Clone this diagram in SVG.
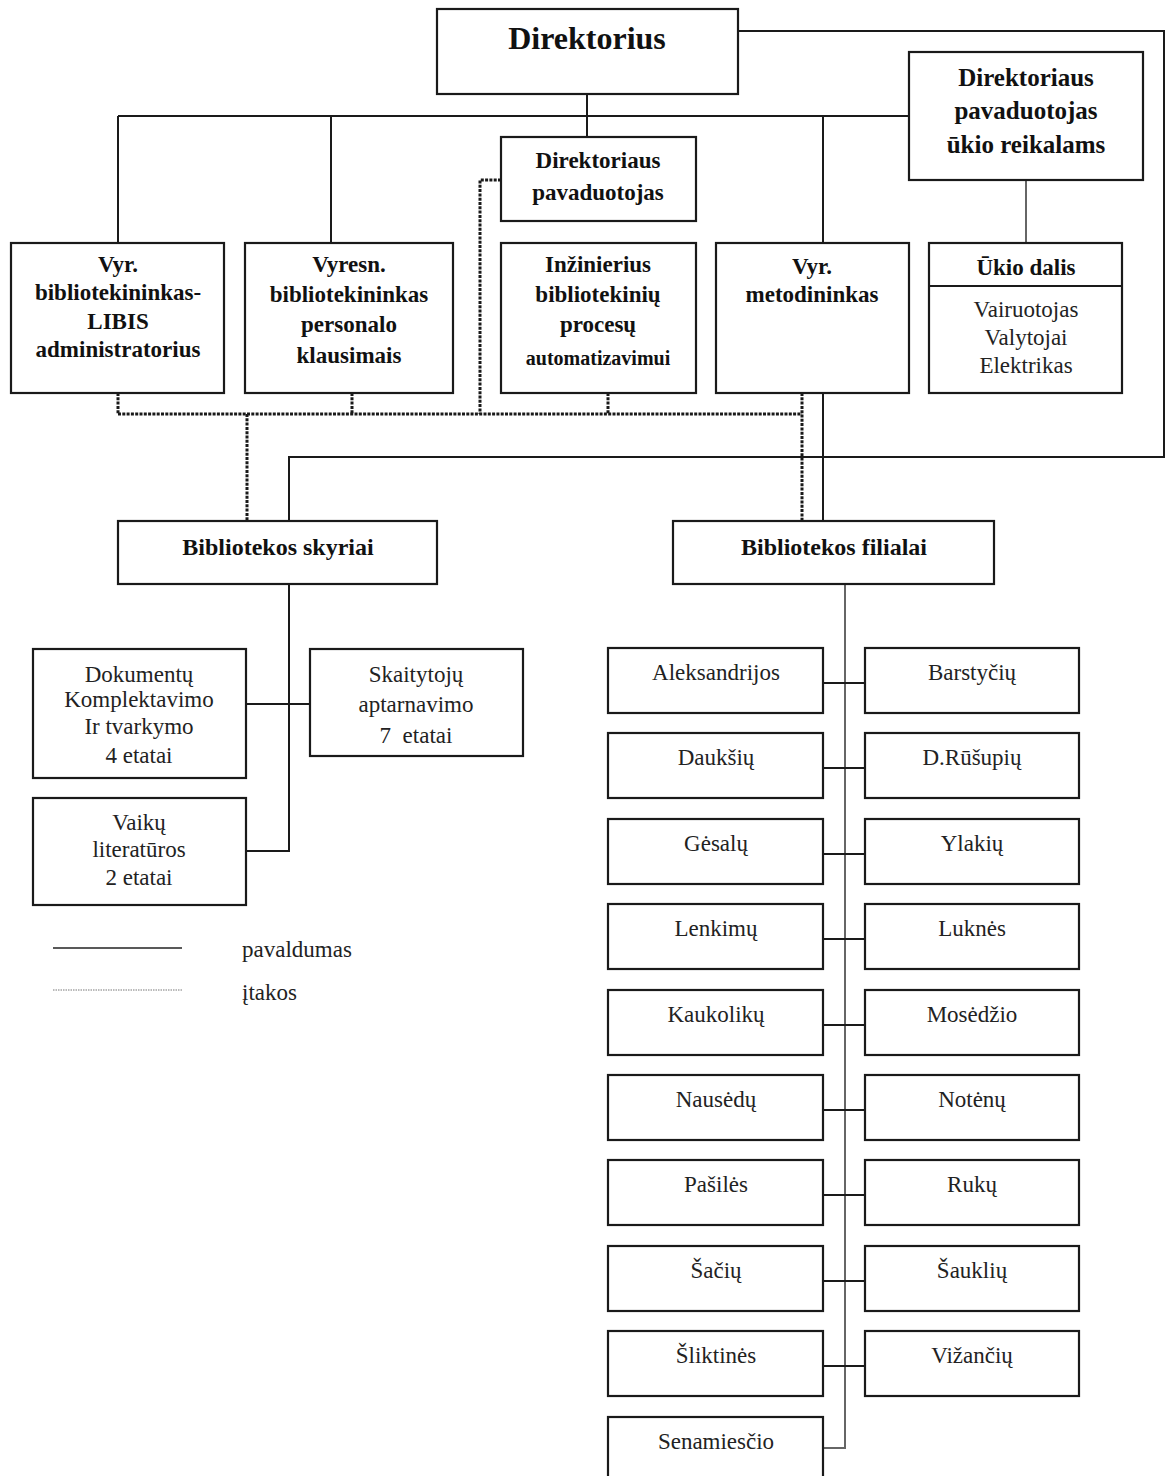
<svg xmlns="http://www.w3.org/2000/svg" width="1170" height="1476" viewBox="0 0 1170 1476">
<style>
.box{fill:#fff;stroke:#1a1a1a;stroke-width:2.2}
.ln{stroke:#1a1a1a;stroke-width:2;fill:none}
.gl{stroke:#666;stroke-width:2;fill:none}
.dot{stroke:#1a1a1a;stroke-width:3;stroke-dasharray:3 1.3;fill:none}
.b{font-family:"Liberation Serif","Times New Roman",serif;font-weight:bold;font-size:23px;text-anchor:middle;fill:#111}
.r{font-family:"Liberation Serif","Times New Roman",serif;font-size:23px;text-anchor:middle;fill:#222}
</style>
<rect width="1170" height="1476" fill="#fff"/>
<g id="connectors">
  <!-- solid subordination -->
  <polyline class="ln" points="738,31 1164,31 1164,457 289,457 289,521"/>
  <line class="ln" x1="118" y1="116" x2="909" y2="116"/>
  <line class="ln" x1="587" y1="94" x2="587" y2="137"/>
  <line class="ln" x1="118" y1="116" x2="118" y2="243"/>
  <line class="ln" x1="331" y1="116" x2="331" y2="243"/>
  <line class="ln" x1="823" y1="116" x2="823" y2="243"/>
  <line class="gl" x1="1026" y1="180" x2="1026" y2="243"/>
  <line class="ln" x1="823" y1="393" x2="823" y2="521"/>
  <!-- influence (dotted) -->
  <polyline class="dot" points="501,180 480,180 480,414"/>
  <line class="dot" x1="118" y1="414" x2="802" y2="414"/>
  <line class="dot" x1="118" y1="393" x2="118" y2="414"/>
  <line class="dot" x1="352" y1="393" x2="352" y2="414"/>
  <line class="dot" x1="608" y1="393" x2="608" y2="414"/>
  <line class="dot" x1="802" y1="393" x2="802" y2="521"/>
  <line class="dot" x1="247" y1="414" x2="247" y2="521"/>
  <!-- skyriai -->
  <polyline class="ln" points="289,584 289,851 246,851"/>
  <line class="ln" x1="246" y1="704" x2="310" y2="704"/>
  <!-- filialai -->
  <polyline class="gl" points="845,584 845,1448 823,1448"/>
  <line class="ln" x1="823" y1="683" x2="865" y2="683"/>
  <line class="ln" x1="823" y1="768" x2="865" y2="768"/>
  <line class="ln" x1="823" y1="854" x2="865" y2="854"/>
  <line class="ln" x1="823" y1="939" x2="865" y2="939"/>
  <line class="ln" x1="823" y1="1025" x2="865" y2="1025"/>
  <line class="ln" x1="823" y1="1110" x2="865" y2="1110"/>
  <line class="ln" x1="823" y1="1195" x2="865" y2="1195"/>
  <line class="ln" x1="823" y1="1281" x2="865" y2="1281"/>
  <line class="ln" x1="823" y1="1366" x2="865" y2="1366"/>
</g>

<g id="direktorius">
  <rect class="box" x="437" y="9" width="301" height="85"/>
  <text class="b" x="587" y="49" style="font-size:32px">Direktorius</text>
</g>
<g id="pavaduotojas">
  <rect class="box" x="501" y="137" width="195" height="84"/>
  <text class="b" x="598" y="168">Direktoriaus</text>
  <text class="b" x="598" y="200">pavaduotojas</text>
</g>
<g id="pavaduotojas-ukio">
  <rect class="box" x="909" y="52" width="234" height="128"/>
  <text class="b" x="1026" y="86" style="font-size:25px">Direktoriaus</text>
  <text class="b" x="1026" y="119" style="font-size:25px">pavaduotojas</text>
  <text class="b" x="1026" y="153" style="font-size:25px">ūkio reikalams</text>
</g>
<g id="libis">
  <rect class="box" x="11" y="243" width="213" height="150"/>
  <text class="b" x="118" y="272">Vyr.</text>
  <text class="b" x="118" y="300">bibliotekininkas-</text>
  <text class="b" x="118" y="329">LIBIS</text>
  <text class="b" x="118" y="357">administratorius</text>
</g>
<g id="personalo">
  <rect class="box" x="245" y="243" width="208" height="150"/>
  <text class="b" x="349" y="272">Vyresn.</text>
  <text class="b" x="349" y="302">bibliotekininkas</text>
  <text class="b" x="349" y="332">personalo</text>
  <text class="b" x="349" y="363">klausimais</text>
</g>
<g id="inzinierius">
  <rect class="box" x="501" y="243" width="195" height="150"/>
  <text class="b" x="598" y="272">Inžinierius</text>
  <text class="b" x="598" y="302">bibliotekinių</text>
  <text class="b" x="598" y="332">procesų</text>
  <text class="b" x="598" y="365" style="font-size:20px">automatizavimui</text>
</g>
<g id="metodininkas">
  <rect class="box" x="716" y="243" width="193" height="150"/>
  <text class="b" x="812" y="274">Vyr.</text>
  <text class="b" x="812" y="302">metodininkas</text>
</g>
<g id="ukio-dalis">
  <rect class="box" x="929" y="243" width="193" height="150"/>
  <line class="ln" x1="929" y1="286" x2="1122" y2="286"/>
  <text class="b" x="1026" y="275">Ūkio dalis</text>
  <text class="r" x="1026" y="317">Vairuotojas</text>
  <text class="r" x="1026" y="345">Valytojai</text>
  <text class="r" x="1026" y="373">Elektrikas</text>
</g>
<g id="skyriai">
  <rect class="box" x="118" y="521" width="319" height="63"/>
  <text class="b" x="278" y="555" style="font-size:24px">Bibliotekos skyriai</text>
</g>
<g id="filialai">
  <rect class="box" x="673" y="521" width="321" height="63"/>
  <text class="b" x="834" y="555" style="font-size:24px">Bibliotekos filialai</text>
</g>
<g id="dokumentu">
  <rect class="box" x="33" y="649" width="213" height="129"/>
  <text class="r" x="139" y="682">Dokumentų</text>
  <text class="r" x="139" y="707">Komplektavimo</text>
  <text class="r" x="139" y="734">Ir tvarkymo</text>
  <text class="r" x="139" y="763">4 etatai</text>
</g>
<g id="skaitytoju">
  <rect class="box" x="310" y="649" width="213" height="107"/>
  <text class="r" x="416" y="682">Skaitytojų</text>
  <text class="r" x="416" y="712">aptarnavimo</text>
  <text class="r" x="416" y="743" xml:space="preserve">7  etatai</text>
</g>
<g id="vaiku">
  <rect class="box" x="33" y="798" width="213" height="107"/>
  <text class="r" x="139" y="830">Vaikų</text>
  <text class="r" x="139" y="857">literatūros</text>
  <text class="r" x="139" y="885">2 etatai</text>
</g>
<g id="legend">
  <line x1="53" y1="948" x2="182" y2="948" stroke="#222" stroke-width="1.6"/>
  <text class="r" x="242" y="957" style="text-anchor:start">pavaldumas</text>
  <line x1="53" y1="990" x2="182" y2="990" stroke="#777" stroke-width="1" stroke-dasharray="1.5 1"/>
  <text class="r" x="242" y="1000" style="text-anchor:start">įtakos</text>
</g>

<g id="f-aleksandrijos"><rect class="box" x="608" y="648" width="215" height="65"/><text class="r" x="716" y="680">Aleksandrijos</text></g>
<g id="f-barstyciu"><rect class="box" x="865" y="648" width="214" height="65"/><text class="r" x="972" y="680">Barstyčių</text></g>
<g id="f-dauksiu"><rect class="box" x="608" y="733" width="215" height="65"/><text class="r" x="716" y="765">Daukšių</text></g>
<g id="f-drusupiu"><rect class="box" x="865" y="733" width="214" height="65"/><text class="r" x="972" y="765">D.Rūšupių</text></g>
<g id="f-gesalu"><rect class="box" x="608" y="819" width="215" height="65"/><text class="r" x="716" y="851">Gėsalų</text></g>
<g id="f-ylakiu"><rect class="box" x="865" y="819" width="214" height="65"/><text class="r" x="972" y="851">Ylakių</text></g>
<g id="f-lenkimu"><rect class="box" x="608" y="904" width="215" height="65"/><text class="r" x="716" y="936">Lenkimų</text></g>
<g id="f-lukne"><rect class="box" x="865" y="904" width="214" height="65"/><text class="r" x="972" y="936">Luknės</text></g>
<g id="f-kaukoliku"><rect class="box" x="608" y="990" width="215" height="65"/><text class="r" x="716" y="1022">Kaukolikų</text></g>
<g id="f-mosedzio"><rect class="box" x="865" y="990" width="214" height="65"/><text class="r" x="972" y="1022">Mosėdžio</text></g>
<g id="f-nausedu"><rect class="box" x="608" y="1075" width="215" height="65"/><text class="r" x="716" y="1107">Nausėdų</text></g>
<g id="f-notenu"><rect class="box" x="865" y="1075" width="214" height="65"/><text class="r" x="972" y="1107">Notėnų</text></g>
<g id="f-pasiles"><rect class="box" x="608" y="1160" width="215" height="65"/><text class="r" x="716" y="1192">Pašilės</text></g>
<g id="f-ruku"><rect class="box" x="865" y="1160" width="214" height="65"/><text class="r" x="972" y="1192">Rukų</text></g>
<g id="f-saciu"><rect class="box" x="608" y="1246" width="215" height="65"/><text class="r" x="716" y="1278">Šačių</text></g>
<g id="f-saukliu"><rect class="box" x="865" y="1246" width="214" height="65"/><text class="r" x="972" y="1278">Šauklių</text></g>
<g id="f-sliktines"><rect class="box" x="608" y="1331" width="215" height="65"/><text class="r" x="716" y="1363">Šliktinės</text></g>
<g id="f-vizanciu"><rect class="box" x="865" y="1331" width="214" height="65"/><text class="r" x="972" y="1363">Vižančių</text></g>
<g id="f-senamiescio"><rect class="box" x="608" y="1417" width="215" height="66"/><text class="r" x="716" y="1449">Senamiesčio</text></g>
</svg>
